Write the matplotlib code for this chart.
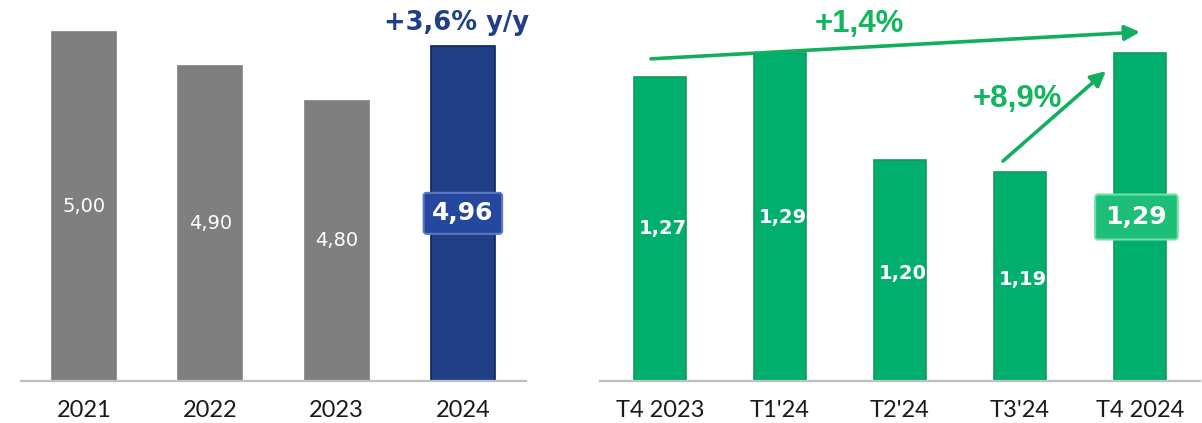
import matplotlib
matplotlib.use("Agg")
import matplotlib.pyplot as plt

# ---- data ----
years = ["2021", "2022", "2023", "2024"]
year_values = [5.00, 4.90, 4.80, 4.96]
year_labels = ["5,00", "4,90", "4,80", "4,96"]
yoy_text = "+3,6% y/y"

quarters = ["T4 2023", "T1'24", "T2'24", "T3'24", "T4 2024"]
q_values = [1.27, 1.29, 1.20, 1.19, 1.29]
q_labels = ["1,27", "1,29", "1,20", "1,19", "1,29"]
long_change = "+1,4%"
short_change = "+8,9%"

W, H = 1202, 423
fig = plt.figure(figsize=(W / 100, H / 100), dpi=100)

GRAY = "#7F7F7F"
BLUE = "#213F87"
GREEN = "#00AF6E"
GREEN_TXT = "#13B55F"
AXIS = "#BFBFBF"

tick_font = ["Liberation Sans Narrow", "Lato", "DejaVu Sans"]

def px_axes(x0, x1, y_top, y_base):
    return fig.add_axes([x0 / W, (H - y_base) / H, (x1 - x0) / W, (y_base - y_top) / H])

def style(ax):
    for s in ["top", "right", "left"]:
        ax.spines[s].set_visible(False)
    ax.spines["bottom"].set_color(AXIS)
    ax.spines["bottom"].set_linewidth(1.6)
    ax.set_yticks([])
    ax.tick_params(axis="x", length=0, pad=14)
    ax.patch.set_alpha(0)

# ---- left panel ----
axL = px_axes(21, 526, 0, 381)
xL = list(range(len(years)))
colorsL = [GRAY] * 3 + [BLUE]
edgesL = [GRAY] * 3 + ["#0F2258"]
axL.bar(xL, year_values, width=0.507, color=colorsL, edgecolor=edgesL, linewidth=1.2)
axL.set_xlim(-0.5, len(years) - 0.5)
bL = 3.988
axL.set_ylim(bL, bL + 381 / 345)
axL.set_xticks(xL, years)
for t in axL.get_xticklabels():
    t.set_fontfamily(tick_font)
    t.set_fontsize(17)
    t.set_color("#1A1A1A")
style(axL)
for i, (v, lab) in enumerate(zip(year_values, year_labels)):
    mid = (bL + v) / 2
    if i == len(years) - 1:
        axL.text(i, mid, lab, ha="center", va="center", color="white", fontsize=18,
                 fontweight="bold", family="DejaVu Sans",
                 bbox=dict(boxstyle="round,pad=0.34,rounding_size=0.12", fc="#26479E",
                           ec="#5A78C4", lw=1.5))
    else:
        axL.text(i, mid, lab, ha="center", va="center", color="white", fontsize=14,
                 family="DejaVu Sans")
axL.text(len(years) - 1 - 0.05, year_values[-1] + 10 / 345, yoy_text, ha="center",
         va="bottom", color="#213F87", fontsize=18.5, fontweight="bold",
         family="DejaVu Sans")

# ---- right panel ----
axR = px_axes(600, 1200, 0, 381)
xR = list(range(len(quarters)))
axR.bar(xR, q_values, width=0.433, color=GREEN, edgecolor="#15985E", linewidth=1.2)
axR.set_xlim(-0.5, len(quarters) - 0.5)
bR = 1.0144
kR = 1190
axR.set_ylim(bR, bR + 381 / kR)
axR.set_xticks(xR, quarters)
for t in axR.get_xticklabels():
    t.set_fontfamily(tick_font)
    t.set_fontsize(17)
    t.set_color("#1A1A1A")
style(axR)
for i, (v, lab) in enumerate(zip(q_values, q_labels)):
    mid = (bR + v) / 2
    if i == len(quarters) - 1:
        axR.text(i - 0.03, mid, lab, ha="center", va="center", color="white", fontsize=18,
                 fontweight="bold", family="DejaVu Sans",
                 bbox=dict(boxstyle="round,pad=0.42,rounding_size=0.12", fc="#1DBE78",
                           ec="#6FE0A8", lw=1.5))
    else:
        axR.text(i + 0.02, mid - (3 / kR if i >= 2 else 0), lab, ha="center", va="center",
                 color="white", fontsize=14, fontweight="bold", family="DejaVu Sans")

arrow_kw = dict(arrowstyle="-|>,head_length=0.9,head_width=0.45", color="#12AE60",
                lw=2.6, shrinkA=0, shrinkB=0)
# long arrow: from first bar to last bar
axR.annotate("", xy=(len(quarters) - 1, q_values[-1] + 21 / kR),
             xytext=(-0.075, q_values[0] + 18 / kR), arrowprops=arrow_kw)
axR.text(1.66, q_values[-1] + 29 / kR, long_change,
         ha="center", va="center", color=GREEN_TXT, fontsize=22.5, fontweight="bold",
         family="Liberation Sans")
# short arrow: from T3'24 to T4 2024
axR.annotate("", xy=(len(quarters) - 1 - 34 / 120, q_values[-1] - 18 / kR),
             xytext=(3 - 17 / 120, q_values[3] + 11 / kR), arrowprops=arrow_kw)
axR.text(2.98, q_values[3] + 73 / kR, short_change, ha="center", va="center",
         color=GREEN_TXT, fontsize=22.5, fontweight="bold", family="Liberation Sans")

fig.savefig("out.png", dpi=100)
